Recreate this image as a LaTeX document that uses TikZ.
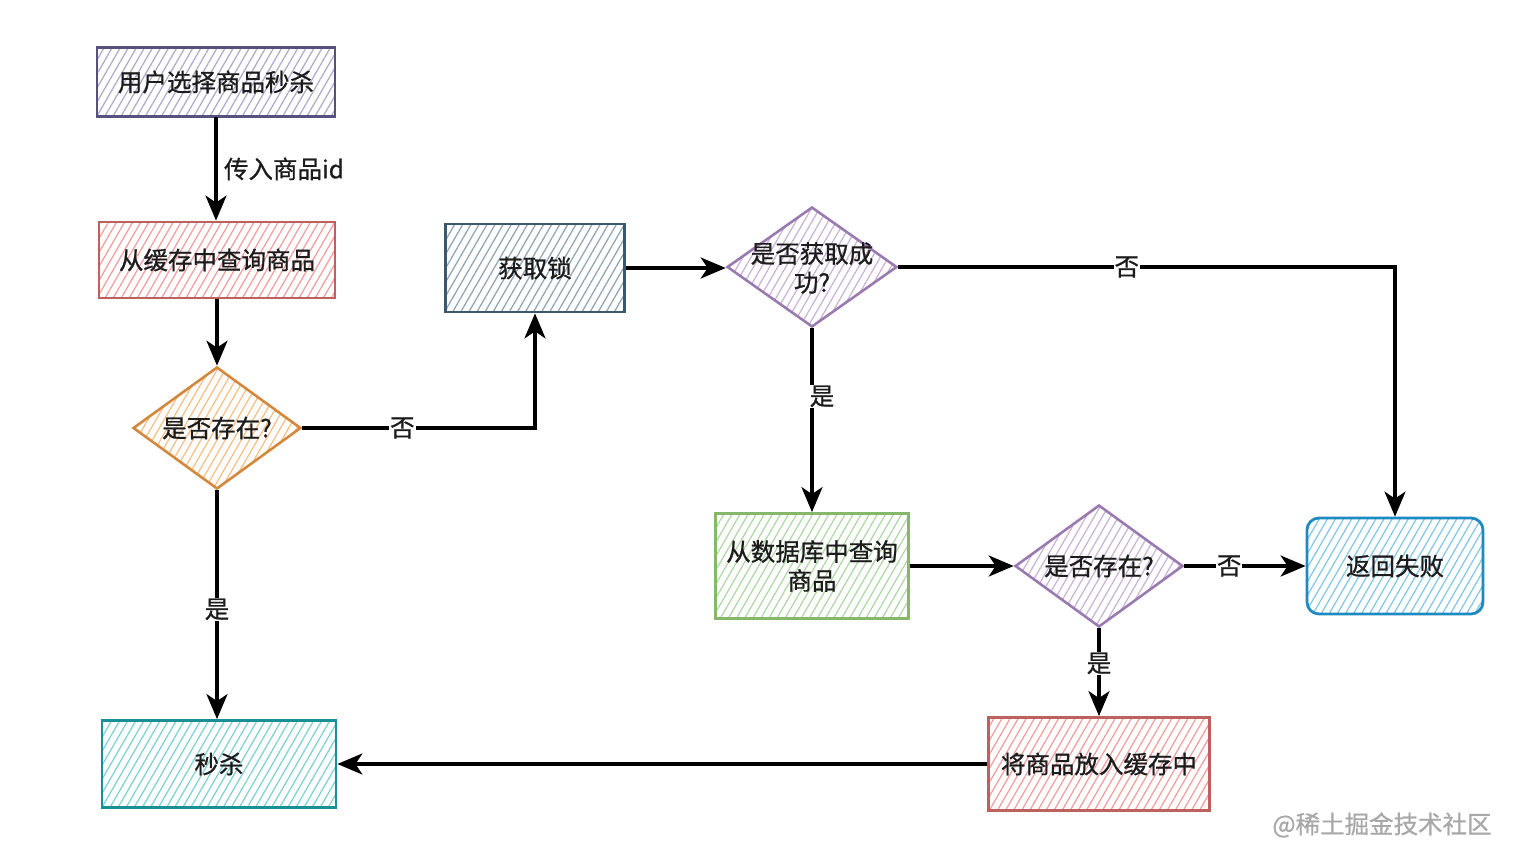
\documentclass[tikz,border=0pt]{standalone}
\usepackage{fontspec}
\newfontfamily\cjk[FakeBold=0.8]{Noto Sans CJK SC}
\usetikzlibrary{shapes.geometric,arrows.meta,patterns.meta}
\definecolor{txt}{HTML}{1C1C1C}
\definecolor{pS}{HTML}{56517E}\definecolor{pF}{HTML}{B0ACCE}
\definecolor{rS}{HTML}{C0605C}\definecolor{rF}{HTML}{F0A0A0}
\definecolor{oS}{HTML}{D3883E}\definecolor{oF}{HTML}{F6C088}
\definecolor{sS}{HTML}{3A586F}\definecolor{sF}{HTML}{92A6B6}
\definecolor{vS}{HTML}{9A7BB0}\definecolor{vF}{HTML}{CCB4D8}
\definecolor{gS}{HTML}{86B86A}\definecolor{gF}{HTML}{B0D8A8}
\definecolor{bS}{HTML}{1F8AC0}\definecolor{bF}{HTML}{86C8E6}
\definecolor{tS}{HTML}{1A8F96}\definecolor{tF}{HTML}{80D2D6}
\definecolor{wm}{HTML}{A8A8A8}
\tikzset{
  x=1pt, y=-1pt,
  lbl/.style={font=\cjk\fontsize{24.5}{29}\selectfont, text=txt, align=center},
  hatch/.style={pattern={Lines[angle=60,distance=7pt,line width=1.3pt]}, pattern color=#1},
  box/.style={draw, line width=2.8pt, lbl, inner sep=0pt},
  dia/.style={draw, line width=2.6pt, shape=diamond, inner sep=0pt, minimum width=168pt, minimum height=122pt},
  arr/.style={line width=3.4pt, draw=black, -{Stealth[length=25pt,width=21pt,inset=7pt]}},
  elbl/.style={lbl, fill=white, inner sep=1pt},
}
\begin{document}
\begin{tikzpicture}
\useasboundingbox (0,0) rectangle (1526,844);
% nodes
\node[box, draw=pS, hatch=pF, minimum width=238pt, minimum height=69pt] (n1) at (216,82) {用户选择商品秒杀};
\node[box, draw=rS, hatch=rF, minimum width=236pt, minimum height=76pt] (n2) at (217,260) {从缓存中查询商品};
\node[dia, draw=oS, hatch=oF, label={[lbl]center:是否存在?}] (d1) at (217,428) {};
\node[box, draw=sS, hatch=sF, minimum width=179pt, minimum height=88pt] (n3) at (535,268) {获取锁};
\node[dia, draw=vS, hatch=vF, minimum width=170pt, minimum height=120pt, label={[lbl, yshift=-1pt]center:是否获取成\\功?}] (d2) at (812,267) {};
\node[box, draw=gS, hatch=gF, minimum width=193pt, minimum height=105pt] (n4) at (812,566) {从数据库中查询\\商品};
\node[dia, draw=vS, hatch=vF, label={[lbl]center:是否存在?}] (d3) at (1099,566) {};
\node[box, draw=bS, hatch=bF, rounded corners=12pt, minimum width=176pt, minimum height=96pt] (n5) at (1395,566) {返回失败};
\node[box, draw=rS, hatch=rF, minimum width=221pt, minimum height=93pt] (n6) at (1099,764) {将商品放入缓存中};
\node[box, draw=tS, hatch=tF, minimum width=234pt, minimum height=87pt] (n7) at (219,764) {秒杀};
\node[font=\cjk\fontsize{24.5}{29}\selectfont, text=wm] (wm) at (1382,825) {@稀土掘金技术社区};
% edges
\draw[arr] (n1.south) -- node[lbl, anchor=west, xshift=3pt] (e1) {传入商品id} (n1.south |- n2.north);
\draw[arr] (n2.south) -- (d1.north);
\draw[arr] (d1.east) -| node[elbl, pos=0.215] (e2) {否} (n3.south);
\draw[arr] (n3.east) -- (n3.east -| d2.west);
\draw[arr] (d2.east) -| node[elbl, pos=0.23] (e3) {否} (n5.north);
\draw[arr] (d2.south) -- node[elbl, pos=0.37, xshift=10pt] (e4) {是} (n4.north);
\draw[arr] (n4.east) -- (d3.west);
\draw[arr] (d3.east) -- node[elbl, pos=0.37] (e5) {否} (n5.west);
\draw[arr] (d3.south) -- node[elbl, pos=0.4] (e6) {是} (n6.north);
\draw[arr] (n6.west) -- (n7.east);
\draw[arr] (d1.south) -- node[elbl, pos=0.52] (e7) {是} (d1.south |- n7.north);
\end{tikzpicture}
\end{document}
